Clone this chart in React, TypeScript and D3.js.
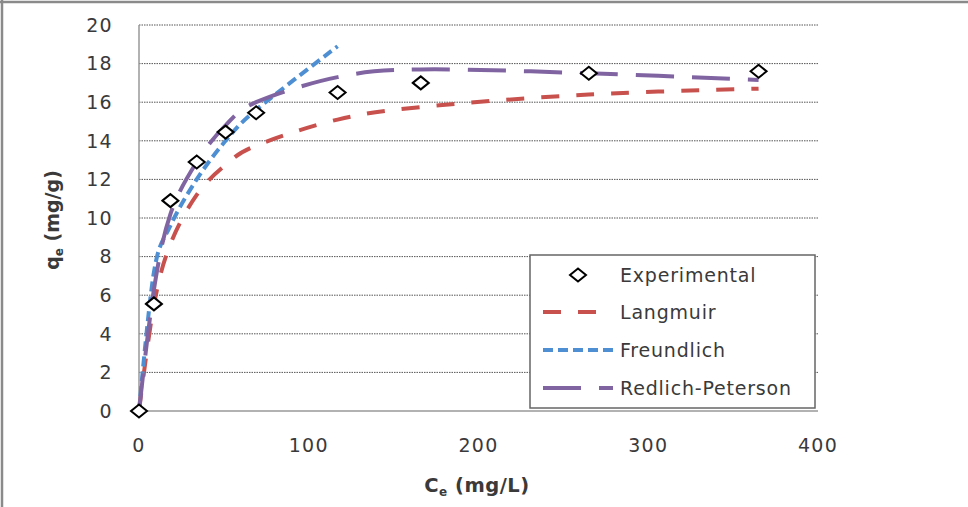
import React from 'react';
import { scaleLinear, line, curveCardinal } from 'd3';

// experimental equilibrium data
const ceValues = [0, 8.8, 18.5, 34, 51, 69, 117, 166, 265, 365];
const qeExperimental = [0, 5.55, 10.9, 12.9, 14.45, 15.45, 16.5, 17.0, 17.5, 17.6];
// model fits at the same Ce values
const qeLangmuir = [0, 5.5, 8.65, 11.2, 12.75, 13.75, 15.1, 15.75, 16.4, 16.7];
const qeFreundlich = [0, 7.2, 9.6, 12.0, 14.0, 15.6, 18.9];
const qeRedlich = [0, 6.3, 10.2, 12.9, 14.8, 16.0, 17.3, 17.7, 17.5, 17.15];

const xTicks = [0, 100, 200, 300, 400];
const yTicks = [0, 2, 4, 6, 8, 10, 12, 14, 16, 18, 20];

const W = 968;
const H = 507;
const FONT = '"DejaVu Sans", sans-serif';

const series = [
  { name: 'Langmuir', values: qeLangmuir, color: '#C8504D', dash: '18 17' },
  { name: 'Freundlich', values: qeFreundlich, color: '#4E8FD3', dash: '10 5' },
  { name: 'Redlich-Peterson', values: qeRedlich, color: '#8064A2', dash: '38 18' },
];

const diamond = (cx: number, cy: number) =>
  `M${cx - 8},${cy} L${cx},${cy - 6.5} L${cx + 8},${cy} L${cx},${cy + 6.5} Z`;

const App = () => {
  const x = scaleLinear().domain([0, 400]).range([139, 818]);
  const y = scaleLinear().domain([0, 20]).range([411, 25]);

  const lineGen = line<[number, number]>()
    .x(d => x(d[0]))
    .y(d => y(d[1]))
    .curve(curveCardinal.tension(0));

  const legendRows = [275, 312, 350, 388];

  return (
    <svg width={W} height={H} style={{ position: 'absolute', left: 0, top: 0, background: '#fff' }}>
      {/* outer frame */}
      <line x1={0} x2={W} y1={2} y2={2} stroke="#8a8a8a" strokeWidth={2.5} />
      <line x1={2} x2={2} y1={0} y2={H} stroke="#8a8a8a" strokeWidth={2.5} />

      {/* gridlines */}
      {yTicks.filter(t => t > 0).map(t => (
        <line key={t} x1={x(0)} x2={x(400)} y1={y(t)} y2={y(t)}
          stroke="#555" strokeWidth={1} strokeDasharray="1.5 1" />
      ))}

      {/* axes */}
      <line x1={x(0)} x2={x(0)} y1={y(20)} y2={y(0)} stroke="#999" strokeWidth={1.5} />
      <line x1={x(0)} x2={x(400)} y1={y(0)} y2={y(0)} stroke="#999" strokeWidth={1.5} />

      {/* tick labels */}
      {yTicks.map(t => (
        <text key={t} x={113} y={y(t)} dy="0.36em" textAnchor="end"
          fontFamily={FONT} fontSize={19} letterSpacing={1.3} fill="#3a3a3a">{t}</text>
      ))}
      {xTicks.map(t => (
        <text key={t} x={x(t)} y={452} textAnchor="middle"
          fontFamily={FONT} fontSize={19} letterSpacing={1.3} fill="#3a3a3a">{t}</text>
      ))}

      {/* axis titles */}
      <text x={477} y={492} textAnchor="middle" fontFamily={FONT} fontSize={19.5}
        fontWeight="bold" letterSpacing={0.5} fill="#3a3a3a">
        C<tspan fontSize={12} dy={4}>e</tspan><tspan dy={-4}> (mg/L)</tspan>
      </text>
      <text transform={`translate(59,220) rotate(-90)`} textAnchor="middle" fontFamily={FONT}
        fontSize={19} fontWeight="bold" fill="#3a3a3a">
        q<tspan fontSize={12} dy={4}>e</tspan><tspan dy={-4}> (mg/g)</tspan>
      </text>

      {/* model curves */}
      {series.map(s => (
        <path key={s.name}
          d={lineGen(s.values.map((v, i) => [ceValues[i], v] as [number, number])) || ''}
          fill="none" stroke={s.color} strokeWidth={4} strokeDasharray={s.dash} />
      ))}

      {/* experimental points */}
      {qeExperimental.map((v, i) => (
        <path key={i} d={diamond(x(ceValues[i]), y(v))}
          fill="#fff" stroke="#000" strokeWidth={2} />
      ))}

      {/* legend */}
      <rect x={530} y={255} width={285} height={153} fill="#fff" stroke="#666" strokeWidth={1.5} />
      <path d={diamond(578, legendRows[0])} fill="#fff" stroke="#000" strokeWidth={2} />
      <text x={620} y={legendRows[0]} dy="0.36em" fontFamily={FONT} fontSize={19}
        letterSpacing={0.8} fill="#3a3a3a">Experimental</text>
      {series.map((s, i) => (
        <g key={s.name}>
          <line x1={543} x2={613} y1={legendRows[i + 1]} y2={legendRows[i + 1]}
            stroke={s.color} strokeWidth={4} strokeDasharray={s.dash} />
          <text x={620} y={legendRows[i + 1]} dy="0.36em" fontFamily={FONT} fontSize={19}
            letterSpacing={0.8} fill="#3a3a3a">{s.name}</text>
        </g>
      ))}
    </svg>
  );
};

export default App;
